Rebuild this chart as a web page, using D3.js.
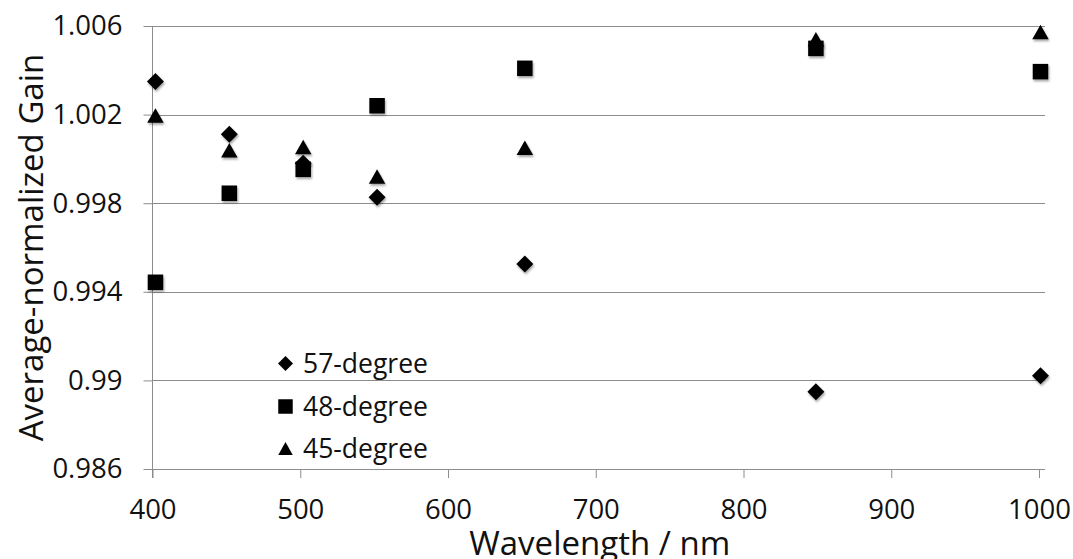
<!DOCTYPE html>
<html>
<head>
<meta charset="utf-8">
<script src="https://cdn.jsdelivr.net/npm/d3@7"></script>
<style>
  body { margin: 0; background: #fff; }
  svg { display: block; font-family: "Open Sans", sans-serif; }
</style>
</head>
<body>
<div id="chart"></div>
<script>
// data
const wavelengths = [402, 452, 502, 552, 652, 849, 1001]
const deg57 = [1.00349, 1.00111, 0.99980, 0.99827, 0.99526, 0.98949, 0.99021]
const deg48 = [0.99443, 0.99845, 0.99953, 1.00240, 1.00409, 1.00499, 1.00394]
const deg45 = [1.00196, 1.00039, 1.00054, 0.99921, 1.00050, 1.00540, 1.00573]
const seriesNames = ['57-degree', '48-degree', '45-degree']
const xTicks = [400, 500, 600, 700, 800, 900, 1000]
const yTicks = [0.986, 0.99, 0.994, 0.998, 1.002, 1.006]

const width = 1073, height = 559
const margin = {left: 152.5, top: 26, right: 1039, bottom: 469}

const svg = d3.select('#chart').append('svg')
    .attr('width', width)
    .attr('height', height)

// soft shadow like the spreadsheet markers
const defs = svg.append('defs')
defs.append('filter')
    .attr('id', 'shadow')
    .attr('x', '-50%').attr('y', '-50%')
    .attr('width', '200%').attr('height', '200%')
    .append('feDropShadow')
    .attr('dx', 1).attr('dy', 2)
    .attr('stdDeviation', 1.3)
    .attr('flood-color', '#000')
    .attr('flood-opacity', 0.35)

const x_scale = d3.scaleLinear()
    .domain([400, 1000])
    .range([margin.left, margin.right])

const y_scale = d3.scaleLinear()
    .domain([0.986, 1.006])
    .range([margin.bottom, margin.top])

const gridColor = '#8c8c8c'

// horizontal gridlines
svg.append('g')
    .selectAll('line')
    .data(yTicks)
    .join('line')
    .attr('x1', margin.left)
    .attr('x2', x_scale(1000) + 6)
    .attr('y1', d => Math.round(y_scale(d)) + 0.5)
    .attr('y2', d => Math.round(y_scale(d)) + 0.5)
    .style('stroke', gridColor)
    .style('stroke-width', 1)

// y axis
const yAxis = svg.append('g')
    .attr('transform', `translate(${margin.left}, 0)`)
    .call(d3.axisLeft(y_scale)
        .tickValues(yTicks)
        .tickFormat(d => String(+d.toFixed(3)))
        .tickSize(9)
        .tickSizeOuter(0)
        .tickPadding(21))
yAxis.select('.domain').remove()
yAxis.selectAll('.tick line').style('stroke', gridColor)
yAxis.selectAll('.tick text')
    .style('font-size', '27.5px')
    .style('font-family', '"Open Sans", sans-serif')
    .style('fill', '#111')
yAxis.append('line')
    .attr('x1', 0).attr('x2', 0)
    .attr('y1', margin.top)
    .attr('y2', margin.bottom + 9)
    .style('stroke', gridColor)

// x axis
const xAxis = svg.append('g')
    .attr('transform', `translate(0, ${margin.bottom})`)
    .call(d3.axisBottom(x_scale)
        .tickValues(xTicks)
        .tickFormat(d3.format('d'))
        .tickSize(9)
        .tickSizeOuter(0)
        .tickPadding(21))
xAxis.select('.domain').remove()
xAxis.selectAll('.tick line').style('stroke', gridColor)
xAxis.selectAll('.tick text')
    .style('font-size', '27.5px')
    .style('font-family', '"Open Sans", sans-serif')
    .style('fill', '#111')

// axis titles
svg.append('text')
    .text('Average-normalized Gain')
    .style('text-anchor', 'middle')
    .style('font-size', '33px')
    .style('fill', '#111')
    .attr('transform', `translate(43, ${(margin.top + margin.bottom) / 2})rotate(-90)`)

svg.append('text')
    .text('Wavelength / nm')
    .style('text-anchor', 'middle')
    .style('font-size', '33px')
    .style('fill', '#111')
    .attr('transform', `translate(${(margin.left + margin.right) / 2 + 4}, 555)`)

// marker shapes (centred on their box like the spreadsheet ones)
const diamondShape = {draw(ctx, size) {
    const r = Math.sqrt(size) / 2
    ctx.moveTo(0, -r); ctx.lineTo(r, 0); ctx.lineTo(0, r); ctx.lineTo(-r, 0); ctx.closePath()
}}
const squareShape = {draw(ctx, size) {
    const r = Math.sqrt(size) / 2
    ctx.rect(-r, -r, r * 2, r * 2)
}}
const triangleShape = {draw(ctx, size) {
    const w = Math.sqrt(size) / 2, h = w * 0.88
    ctx.moveTo(0, -h); ctx.lineTo(w, h); ctx.lineTo(-w, h); ctx.closePath()
}}

const series = [
    {name: seriesNames[0], values: deg57, shape: diamondShape, size: 17 * 17},
    {name: seriesNames[1], values: deg48, shape: squareShape, size: 15.5 * 15.5},
    {name: seriesNames[2], values: deg45, shape: triangleShape, size: 16.5 * 16.5}
]

const drawOrder = [series[0], series[2], series[1]]
const pointGroup = svg.append('g').attr('id', 'points')
drawOrder.forEach(s => {
    pointGroup.append('g')
        .selectAll('path')
        .data(s.values.map((v, i) => ({x: wavelengths[i], y: v})))
        .join('path')
        .attr('d', d3.symbol().type(s.shape).size(s.size))
        .attr('transform', d => `translate(${x_scale(d.x)}, ${y_scale(d.y)})`)
        .style('fill', '#000')
        .style('filter', 'url(#shadow)')
})

// legend
const legendGroup = svg.append('g').attr('id', 'legend')
const legendRows = [363.5, 406.5, 448.5]
series.forEach((s, i) => {
    const row = legendGroup.append('g')
        .attr('transform', `translate(285.5, ${legendRows[i]})`)
    row.append('path')
        .attr('d', d3.symbol().type(s.shape).size(i === 0 ? 15 * 15 : 14.5 * 14.5))
        .style('fill', '#000')
    row.append('text')
        .text(s.name)
        .attr('x', 17.5)
        .attr('dy', '0.35em')
        .style('font-size', '26.5px')
        .style('fill', '#111')
})
</script>
</body>
</html>
